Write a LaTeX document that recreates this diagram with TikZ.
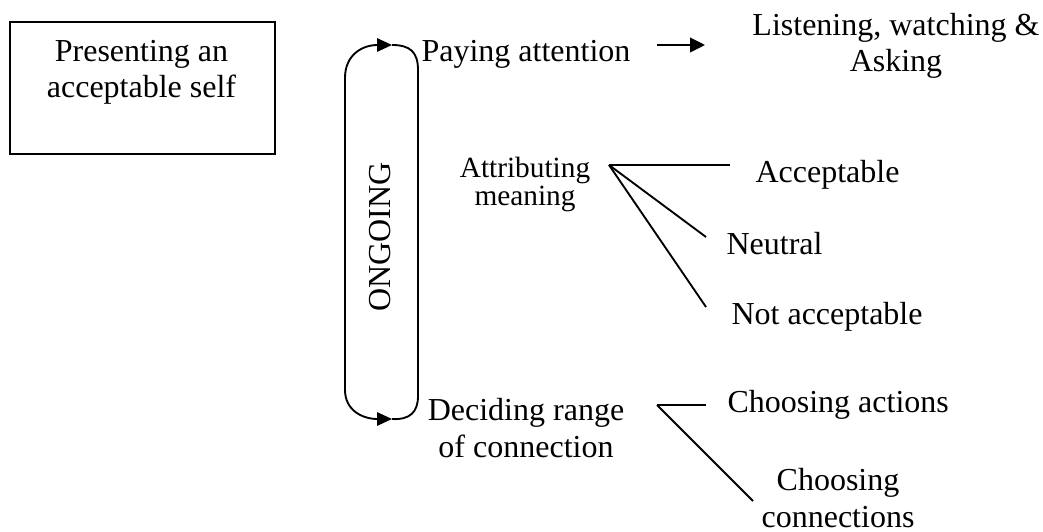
\documentclass[tikz,border=0pt]{standalone}
\usepackage{fontspec}
\setmainfont{Liberation Serif}
\usetikzlibrary{arrows.meta}

\begin{document}
\begin{tikzpicture}[
  x=0.375pt,y=-0.375pt,
  every node/.style={font=\fontsize{12}{13.8}\selectfont,inner sep=0pt,align=center},
  txt/.style={anchor=base},
  lefttxt/.style={anchor=base west},
  small/.style={font=\fontsize{11}{10.5}\selectfont},
  frame/.style={draw,line width=0.75pt,minimum width=99.4pt,minimum height=49.5pt,anchor=north west},
  link/.style={line width=0.7pt},
  arr/.style={-{Triangle[length=5.6pt,width=5.5pt]},line width=0.7pt},
  cycle/.style={{Triangle[length=5.6pt,width=5pt]}-{Triangle[length=5.6pt,width=5pt]},line width=0.7pt}
]
\useasboundingbox (0,0) rectangle (1043,531);
% texts sit on the baseline of their last line
\node[frame] (selfbox) at (9,21) {};
\node[txt] (self) at (141.5,98) {Presenting an\\acceptable self};
\node[txt] (pay) at (526,62) {Paying attention};
\node[txt] (listen) at (896,72) {Listening, watching \&\\Asking};
\node[txt,small] (attr) at (525,205) {Attributing\\meaning};
\node[lefttxt] (acc) at (755,182) {Acceptable};
\node[lefttxt] (neu) at (726,254) {Neutral};
\node[lefttxt] (notacc) at (731,324) {Not acceptable};
\node[txt] (decide) at (526,457) {Deciding range\\of connection};
\node[lefttxt] (actions) at (727,412) {Choosing actions};
\node[txt] (conns) at (838,527) {Choosing\\connections};
\node[rotate=90] (ongoing) at (380,237) {ONGOING};
% loop round ONGOING
\coordinate (looptop) at (392,45);
\coordinate (loopbot) at (392,419);
\draw[cycle] (looptop) .. controls (362,45) and (345,55) .. (345,78) -- (345,390) .. controls (345,410) and (362,419) .. (loopbot);
\draw[link] (looptop) .. controls (410,45) and (418,52) .. (418,70) -- (418,396) .. controls (418,412) and (410,420) .. (loopbot);
% paying attention
\coordinate (payout) at (657,45);
\coordinate (listenin) at (705,45);
\draw[arr] (payout) -- (listenin);
% attributing meaning
\coordinate (attrfork) at (609,165);
\coordinate (accin) at (730,165);
\coordinate (neuin) at (706,237);
\coordinate (notaccin) at (706,307);
\draw[link] (attrfork) -- (accin);
\draw[link] (attrfork) -- (neuin);
\draw[link] (attrfork) -- (notaccin);
% deciding range
\coordinate (decidefork) at (657,405);
\coordinate (actionsin) at (706,405);
\coordinate (connsin) at (753,501);
\draw[link] (decidefork) -- (actionsin);
\draw[link] (decidefork) -- (connsin);
\end{tikzpicture}
\end{document}
